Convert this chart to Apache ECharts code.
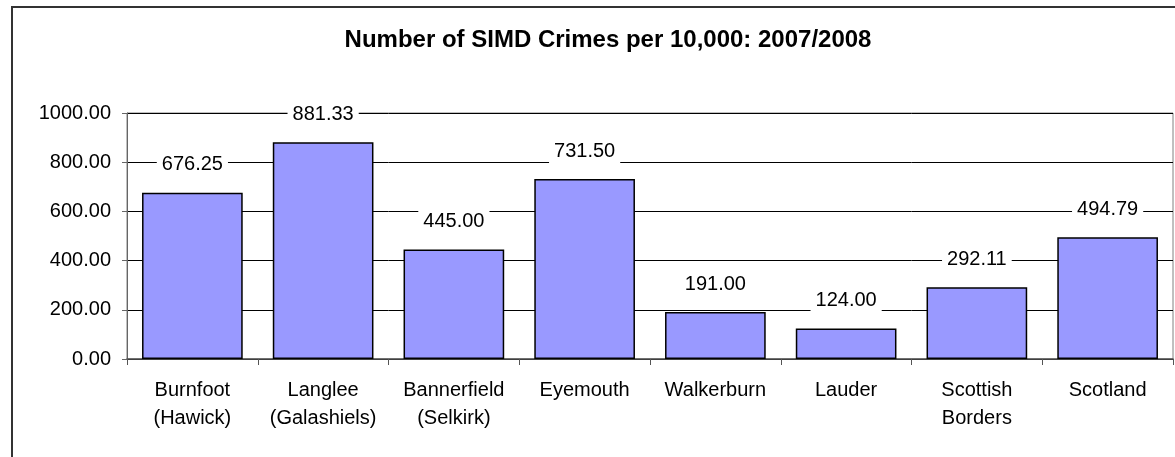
<!DOCTYPE html>
<html>
<head>
<meta charset="utf-8">
<script src="https://cdn.jsdelivr.net/npm/echarts@6/dist/echarts.min.js"></script>
<style>html,body{margin:0;padding:0;background:#fff}#c{width:1175px;height:457px}</style>
</head>
<body>
<div id="c"></div>
<script>
const titleText = 'Number of SIMD Crimes per 10,000: 2007/2008';
const categories = ['Burnfoot\n(Hawick)', 'Langlee\n(Galashiels)', 'Bannerfield\n(Selkirk)', 'Eyemouth', 'Walkerburn', 'Lauder', 'Scottish\nBorders', 'Scotland'];
const values = [676.25, 881.33, 445.00, 731.50, 191.00, 124.00, 292.11, 494.79];
const yMin = 0, yMax = 1000, yStep = 200;

const chart = echarts.init(document.getElementById('c'), null, {renderer: 'canvas'});
const FONT = 'Liberation Sans, Arial, sans-serif';
chart.setOption({
  animation: false,
  backgroundColor: '#fff',
  textStyle: {fontFamily: FONT},
  title: {
    text: titleText,
    left: 603, top: 23, textAlign: 'center',
    textStyle: {fontFamily: FONT, fontWeight: 'bold', fontSize: 24, color: '#000'}
  },
  graphic: [{
    type: 'rect', silent: true, z: 100,
    shape: {x: 12, y: 7, width: 1250, height: 500},
    style: {fill: 'none', stroke: '#333', lineWidth: 2}
  }],
  grid: {
    left: 127, right: 2, top: 113, bottom: 98,
    show: true, borderColor: '#808080', borderWidth: 1, backgroundColor: 'transparent'
  },
  xAxis: {
    type: 'category', data: categories,
    axisLine: {show: true, lineStyle: {color: '#555', width: 1.5}},
    axisTick: {show: true, length: 6, lineStyle: {color: '#555'}},
    axisLabel: {fontFamily: FONT, fontSize: 20, color: '#000', lineHeight: 28, margin: 17, interval: 0}
  },
  yAxis: {
    type: 'value', min: yMin, max: yMax, interval: yStep,
    axisLine: {show: true, lineStyle: {color: '#666', width: 1}},
    axisTick: {show: true, length: 5, lineStyle: {color: '#666'}},
    splitLine: {show: true, lineStyle: {color: '#000', width: 1}},
    axisLabel: {fontFamily: FONT, fontSize: 20, color: '#000', margin: 16, formatter: v => v.toFixed(2)}
  },
  series: [{
    type: 'bar', data: values, barCategoryGap: '23%',
    itemStyle: {color: '#9999FF', borderColor: '#000', borderWidth: 1.5},
    label: {
      show: true, position: 'top', distance: 16,
      fontFamily: FONT, fontSize: 20, color: '#000',
      backgroundColor: '#fff', padding: [2, 5],
      formatter: p => p.value.toFixed(2)
    }
  }]
});
</script>
</body>
</html>
